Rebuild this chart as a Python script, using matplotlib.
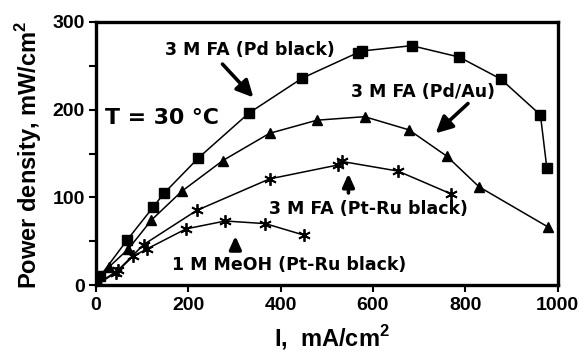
import matplotlib
matplotlib.use("Agg")
import matplotlib.pyplot as plt

plt.rcParams['mathtext.fontset'] = 'custom'
plt.rcParams['mathtext.rm'] = 'Liberation Sans'
plt.rcParams['mathtext.bf'] = 'Liberation Sans:bold'

# Data
pd_black_x = [0, 9, 67, 124, 148, 222, 331, 447, 567, 577, 684, 787, 877, 963, 977]
pd_black_y = [0, 10, 51, 89, 105, 145, 196, 236, 265, 267, 273, 260, 235, 194, 133]

pd_au_x = [0, 29, 70, 120, 186, 275, 376, 479, 582, 678, 760, 830, 980]
pd_au_y = [0, 21, 41, 74, 107, 142, 173, 188, 192, 177, 147, 112, 66]

fa_ptru_x = [0, 48, 103, 218, 376, 525, 532, 654, 769]
fa_ptru_y = [0, 17, 46, 85, 121, 137, 141, 130, 104]

meoh_ptru_x = [0, 43, 81, 110, 195, 280, 367, 450]
meoh_ptru_y = [0, 14, 33, 41, 64, 73, 70, 57]

x_ticks = [0, 200, 400, 600, 800, 1000]
y_ticks = [0, 50, 100, 150, 200, 250, 300]
y_tick_labels = ["0", "", "100", "", "200", "", "300"]

W, H = 584, 352
fig = plt.figure(figsize=(W / 100, H / 100), dpi=100)
ax = fig.add_axes([96 / W, (H - 285) / H, (557.5 - 96) / W, (285 - 22) / H])

lw = 1.1
ax.plot(pd_black_x, pd_black_y, '-', color='k', lw=lw, marker='s', ms=6.5, mfc='k', mec='k')
ax.plot(pd_au_x, pd_au_y, '-', color='k', lw=lw, marker='^', ms=7, mfc='k', mec='k')
ax.plot(fa_ptru_x, fa_ptru_y, '-', color='k', lw=lw, marker=(6, 2, 0), ms=9, mec='k', mew=1.3)
ax.plot(meoh_ptru_x, meoh_ptru_y, '-', color='k', lw=lw, marker=(6, 2, 0), ms=9, mec='k', mew=1.3)

ax.set_xlim(0, 1000)
ax.set_ylim(0, 300)
ax.set_xticks(x_ticks)
ax.set_yticks(y_ticks)
ax.set_yticklabels(y_tick_labels)

for lab in ax.get_xticklabels() + ax.get_yticklabels():
    lab.set_fontfamily('Liberation Sans')
    lab.set_fontweight('bold')
    lab.set_fontsize(14)
ax.tick_params(direction='out', length=5, width=1.5, colors='k', pad=3)
ax.tick_params(axis='x', pad=4)
for s in ax.spines.values():
    s.set_linewidth(2.4)
    s.set_color('k')

ann = dict(family='DejaVu Sans', weight='bold', size=12.5, color='k')
arrow = dict(arrowstyle='-|>,head_length=0.5,head_width=0.25', lw=2.6, color='k',
             mutation_scale=20, shrinkA=0, shrinkB=0)
small_arrow = dict(arrowstyle='-|>,head_length=0.55,head_width=0.25', lw=2.6, color='k',
                   mutation_scale=14, shrinkA=0, shrinkB=0)

ax.text(333, 268, "3 M FA (Pd black)", ha='center', va='center', **ann)
ax.annotate("", xy=(341, 214), xytext=(274, 252), arrowprops=arrow)

ax.text(143, 190, "T = 30 \u00b0C", ha='center', va='center', family='DejaVu Sans',
        weight='bold', size=15.8, color='k')

ax.text(708, 220, "3 M FA (Pd/Au)", ha='center', va='center', **ann)
ax.annotate("", xy=(736, 173), xytext=(806, 207), arrowprops=arrow)

ax.text(590, 87, "3 M FA (Pt-Ru black)", ha='center', va='center', **ann)
ax.annotate("", xy=(547, 127), xytext=(547, 105), arrowprops=small_arrow)

ax.text(419, 23, "1 M MeOH (Pt-Ru black)", ha='center', va='center', **ann)
ax.annotate("", xy=(302, 56), xytext=(302, 42), arrowprops=small_arrow)

fig.text(29 / W, 1 - 155 / H, r"Power density, mW/cm$^{\mathbf{2}}$", rotation=90, ha='center',
         va='center', family='Liberation Sans', weight='bold', size=17, color='k')
fig.text(332 / W, 1 - 338 / H, r"I,  mA/cm$^{\mathbf{2}}$", ha='center', va='center',
         family='Liberation Sans', weight='bold', size=17, color='k')

fig.savefig("out.png", dpi=100)
